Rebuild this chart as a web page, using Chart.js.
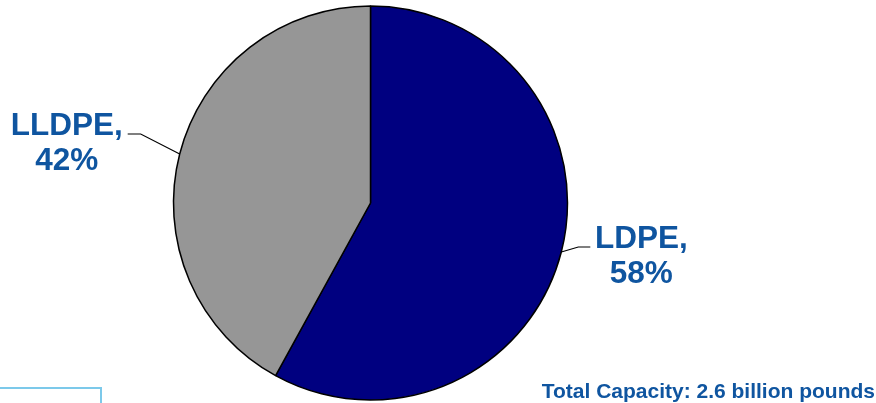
<!DOCTYPE html>
<html>
<head>
<meta charset="utf-8">
<script src="https://cdn.jsdelivr.net/npm/chart.js@4.4.0/dist/chart.umd.min.js"></script>
<style>
  html, body { margin: 0; padding: 0; background: #fff; }
  #wrap { position: relative; width: 876px; height: 403px; overflow: hidden; }
  #box { position: absolute; left: -2px; top: 387px; width: 102px; height: 30px;
         border-top: 2px solid #7cc9ea; border-right: 2px solid #7cc9ea; }
</style>
</head>
<body>
<div id="wrap">
  <canvas id="pieChart" width="876" height="403"></canvas>
  <div id="box"></div>
</div>
<script>
const categories = ["LDPE", "LLDPE"];
const shares = [58, 42];
const sliceColors = ["#000080", "#969696"];
const footnote = "Total Capacity: 2.6 billion pounds";

const textBlue = "#0f55a0";
const labelFont = "bold 31.5px 'Liberation Sans', Arial, sans-serif";

// leader line shape and label placement per slice (relative to the slice's edge midpoint)
const leaderLayout = [
    { elbow: [17, -5], tail: 12, textDx: 51 },
    { elbow: [-39, -20], tail: -13, textDx: -61 }
];

const pieLabels = {
    id: "pieLabels",
    afterDatasetsDraw(chart) {
        const ctx = chart.ctx;
        const meta = chart.getDatasetMeta(0);
        ctx.save();
        meta.data.forEach((arc, i) => {
            const { x, y, startAngle, endAngle, outerRadius } = arc.getProps(["x", "y", "startAngle", "endAngle", "outerRadius"], true);
            const mid = (startAngle + endAngle) / 2;
            const ex = x + Math.cos(mid) * outerRadius;
            const ey = y + Math.sin(mid) * outerRadius;
            const lay = leaderLayout[i];
            const bx = ex + lay.elbow[0], by = ey + lay.elbow[1];
            const tx = bx + lay.tail;

            ctx.strokeStyle = "#000";
            ctx.lineWidth = 1.2;
            ctx.beginPath();
            ctx.moveTo(ex, ey);
            ctx.lineTo(bx, by);
            ctx.lineTo(tx, by);
            ctx.stroke();

            ctx.fillStyle = textBlue;
            ctx.font = labelFont;
            ctx.textAlign = "center";
            ctx.textBaseline = "alphabetic";
            const cx = tx + lay.textDx;
            ctx.fillText(categories[i] + ",", cx, by + 1);
            ctx.fillText(shares[i] + "%", cx, by + 36);
        });

        ctx.font = "bold 21px 'Liberation Sans', Arial, sans-serif";
        ctx.fillStyle = textBlue;
        ctx.textAlign = "right";
        ctx.textBaseline = "alphabetic";
        ctx.fillText(footnote, 875, 398);
        ctx.restore();
    }
};

new Chart(document.getElementById("pieChart"), {
    type: "pie",
    data: {
        labels: categories,
        datasets: [{
            data: shares,
            backgroundColor: sliceColors,
            borderColor: "#000",
            borderWidth: 1.5
        }]
    },
    options: {
        responsive: false,
        animation: false,
        radius: 197,
        layout: { padding: { left: 0, right: 135, top: 3, bottom: 0 } },
        plugins: {
            legend: { display: false },
            tooltip: { enabled: false }
        }
    },
    plugins: [pieLabels]
});
</script>
</body>
</html>
